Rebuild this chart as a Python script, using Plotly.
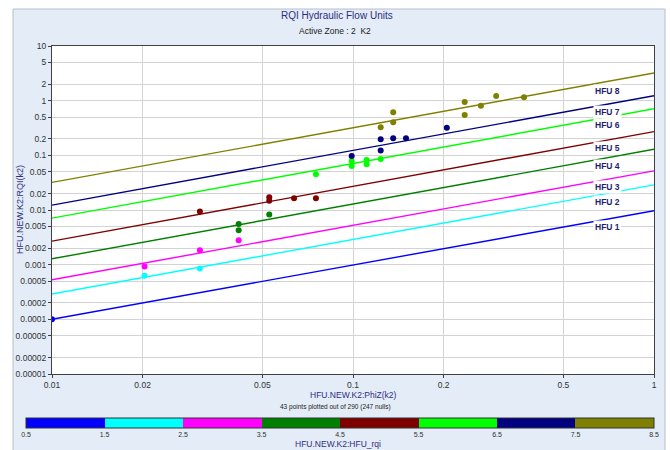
import plotly.graph_objects as go
import numpy as np

# ---- sample points: PhiZ (x), RQI (y) and hydraulic flow unit of each point ----
phiz = [0.01,
        0.0203, 0.031,
        0.0203, 0.031, 0.0417,
        0.0417, 0.0417, 0.0527,
        0.031, 0.0527, 0.0527, 0.0637, 0.0753,
        0.0753, 0.099, 0.099, 0.111, 0.111, 0.1236,
        0.099, 0.1236, 0.1236, 0.136, 0.150, 0.205,
        0.1236, 0.136, 0.136, 0.235, 0.235, 0.266, 0.299, 0.370]
rqi = [0.0001,
       0.000624, 0.00085,
       0.000923, 0.00184, 0.0028,
       0.00557, 0.00428, 0.00824,
       0.00935, 0.0171, 0.0147, 0.0164, 0.0164,
       0.0451, 0.079, 0.064, 0.0824, 0.0687, 0.0859,
       0.0975, 0.122, 0.197, 0.206, 0.206, 0.321,
       0.327, 0.614, 0.403, 0.947, 0.548, 0.811, 1.22, 1.15]
hfu = [1,
       2, 2,
       3, 3, 3,
       4, 4, 4,
       5, 5, 5, 5, 5,
       6, 6, 6, 6, 6, 6,
       7, 7, 7, 7, 7, 7,
       8, 8, 8, 8, 8, 8, 8, 8]

# ---- flow-unit boundary lines: RQI at PhiZ = 0.01 and at PhiZ = 1 ----
line_phiz = [0.01, 1.0]
line_rqi_lo = [0.0001, 0.00029, 0.00053, 0.00128, 0.0027, 0.0071, 0.0123, 0.032]
line_rqi_hi = [0.0097, 0.0288, 0.052, 0.129, 0.271, 0.71, 1.23, 3.2]
hfu_names = ["HFU 1", "HFU 2", "HFU 3", "HFU 4", "HFU 5", "HFU 6", "HFU 7", "HFU 8"]

# ---- axis ticks ----
x_ticks = [0.01, 0.02, 0.05, 0.1, 0.2, 0.5, 1]
x_tick_text = ["0.01", "0.02", "0.05", "0.1", "0.2", "0.5", "1"]
y_ticks = [0.00001, 0.00002, 0.00005, 0.0001, 0.0002, 0.0005, 0.001, 0.002, 0.005,
           0.01, 0.02, 0.05, 0.1, 0.2, 0.5, 1, 2, 5, 10]
y_tick_text = ["0.00001", "0.00002", "0.00005", "0.0001", "0.0002", "0.0005", "0.001",
               "0.002", "0.005", "0.01", "0.02", "0.05", "0.1", "0.2", "0.5", "1", "2",
               "5", "10"]
cbar_ticks = [0.5, 1.5, 2.5, 3.5, 4.5, 5.5, 6.5, 7.5, 8.5]

# ---- styling ----
hfu_colors = ["#0000FF", "#00FFFF", "#FF00FF", "#008000",
              "#800000", "#00FF00", "#000080", "#808000"]
FONT = "Liberation Sans"
NAVY = "#2E2E7E"
PANEL = "#E3ECF7"

# label placement (PhiZ, RQI) for each flow-unit tag
label_x = 0.70
label_y = [0.0049, 0.0139, 0.0268, 0.064, 0.138, 0.355, 0.614, 1.52]

# discrete colour scale, one band per flow unit (0.5 .. 8.5)
n = len(hfu_colors)
colorscale = []
for i, c in enumerate(hfu_colors):
    colorscale.append([i / n, c])
    colorscale.append([(i + 1) / n, c])

# plot-area pixel geometry, used to place items outside the axes
W, H = 670, 450
ML, MR, MT, MB = 52, 16, 46, 76
PW, PH = W - ML - MR, H - MT - MB


def px_x(px):
    return (px - ML) / PW


def px_y(py):
    return (H - MB - py) / PH


fig = go.Figure()

for i in range(n):
    fig.add_trace(go.Scatter(
        x=line_phiz, y=[line_rqi_lo[i], line_rqi_hi[i]],
        mode="lines", line=dict(color=hfu_colors[i], width=1.4),
        hoverinfo="skip", showlegend=False))

fig.add_trace(go.Scatter(
    x=phiz, y=rqi, mode="markers", showlegend=False,
    marker=dict(
        size=6, color=hfu, cmin=0.5, cmax=8.5, colorscale=colorscale,
        showscale=True,
        colorbar=dict(
            orientation="h", x=px_x(340), xanchor="center",
            y=px_y(418), yanchor="top",
            len=628, lenmode="pixels", thickness=10, thicknessmode="pixels",
            xpad=0, ypad=0, outlinewidth=1, outlinecolor="#333333",
            tickmode="array", tickvals=cbar_ticks,
            ticktext=[str(v) for v in cbar_ticks], ticks="",
            tickfont=dict(family=FONT, size=7, color="#333333"),
        ),
    ),
))

annotations = []
for i in range(n):
    annotations.append(dict(
        x=np.log10(label_x), y=np.log10(label_y[i]), xref="x", yref="y",
        text="<b>%s</b>" % hfu_names[i], showarrow=False,
        xanchor="center", yanchor="middle",
        font=dict(family=FONT, size=8.5, color="#1E1E6E"),
        bgcolor="white", borderpad=1))


def text_at(px, py, text, size, color, angle=0):
    return dict(x=px_x(px), y=px_y(py), xref="paper", yref="paper",
                xanchor="center", yanchor="middle", textangle=angle,
                text=text, showarrow=False,
                font=dict(family=FONT, size=size, color=color))


annotations += [
    text_at(337, 16, "RQI Hydraulic Flow Units", 10, NAVY),
    text_at(335, 31, "Active Zone : 2 &nbsp;K2", 8.5, "#222222"),
    text_at(353, 395, "HFU.NEW.K2:PhiZ(k2)", 8.5, NAVY),
    text_at(335, 407, "43 points plotted out of 290 (247 nulls)", 6.5, "#222222"),
    text_at(20, 210, "HFU.NEW.K2:RQI(k2)", 9, NAVY, angle=-90),
    # colour-bar caption
    text_at(338, 443.5, "HFU.NEW.K2:HFU_rqi", 8.5, NAVY),
]

shapes = [
    dict(type="rect", xref="paper", yref="paper", layer="below",
         x0=px_x(13), x1=px_x(665), y0=px_y(460), y1=px_y(9),
         fillcolor=PANEL, line=dict(color="#B8BEC6", width=1)),
    dict(type="rect", xref="paper", yref="paper", layer="below",
         x0=0, x1=1, y0=0, y1=1, fillcolor="white", line=dict(width=0)),
]

axis_common = dict(
    type="log", showgrid=True, gridcolor="#D3D3D3", gridwidth=1,
    showline=True, linecolor="#404040", linewidth=1, mirror=True,
    ticks="outside", ticklen=3, tickcolor="#404040", zeroline=False,
    tickfont=dict(family=FONT, size=8.5, color="#333333"), tickmode="array",
)

fig.update_layout(
    width=W, height=H,
    margin=dict(l=ML, r=MR, t=MT, b=MB, autoexpand=False),
    paper_bgcolor="white", plot_bgcolor="rgba(0,0,0,0)",
    xaxis=dict(axis_common, range=[-2, 0], tickvals=x_ticks, ticktext=x_tick_text),
    yaxis=dict(axis_common, range=[-5, 1], tickvals=y_ticks, ticktext=y_tick_text),
    annotations=annotations, shapes=shapes, showlegend=False,
)

fig.write_html("out.html")
